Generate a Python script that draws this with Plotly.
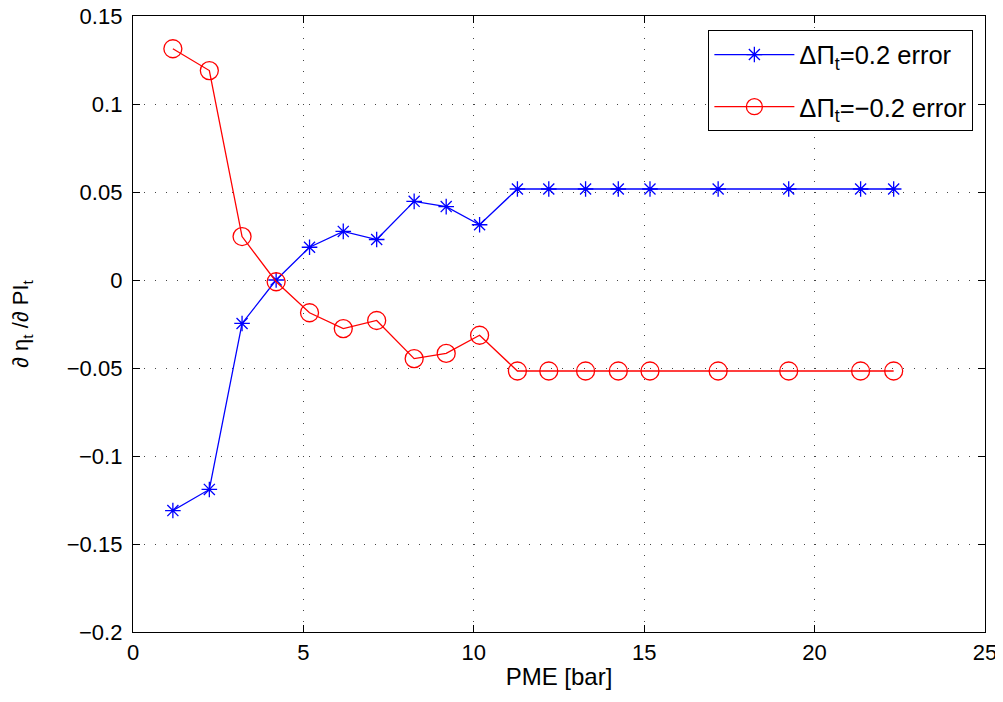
import plotly.graph_objects as go

pme = [1.17, 2.24, 3.2, 4.2, 5.18, 6.17, 7.15, 8.25, 9.19, 10.17, 11.28, 12.2, 13.28,
       14.24, 15.17, 17.17, 19.24, 21.35, 22.32]
pos_err = [-0.131, -0.119, -0.0247, 0.0, 0.0186, 0.0276, 0.0230, 0.0447, 0.0417, 0.0314,
           0.0517, 0.0517, 0.0517, 0.0517, 0.0517, 0.0517, 0.0517, 0.0517, 0.0517]
neg_err = [0.1314, 0.119, 0.0247, -0.001, -0.0186, -0.0276, -0.0230, -0.0447, -0.0417, -0.0314,
           -0.0517, -0.0517, -0.0517, -0.0517, -0.0517, -0.0517, -0.0517, -0.0517, -0.0517]

x_ticks = [0, 5, 10, 15, 20, 25]
y_ticks = [-0.2, -0.15, -0.1, -0.05, 0, 0.05, 0.1, 0.15]
y_labels = ["\u22120.2", "\u22120.15", "\u22120.1", "\u22120.05", "0", "0.05", "0.1", "0.15"]

FONT = "Liberation Sans, Arial, sans-serif"

fig = go.Figure()
fig.add_trace(go.Scatter(
    x=pme, y=pos_err, mode="lines+markers",
    name="\u0394\u03a0<sub>t</sub>=0.2 error", legendgroup="a",
    line=dict(color="#0000ff", width=1.3),
    marker=dict(symbol="asterisk-open", size=13, color="#0000ff",
                line=dict(color="#0000ff", width=1.3)),
))
fig.add_trace(go.Scatter(
    x=pme, y=neg_err, mode="lines+markers",
    name="\u0394\u03a0<sub>t</sub>=\u22120.2 error", legendgroup="b",
    line=dict(color="#ff0000", width=1.3),
    marker=dict(symbol="circle-open", size=18, color="#ff0000",
                line=dict(color="#ff0000", width=1.3)),
))

axis_common = dict(
    showline=True, linecolor="black", linewidth=1.3, mirror="ticks",
    ticks="inside", ticklen=7, tickcolor="black", tickwidth=1,
    showgrid=True, gridcolor="#444444", gridwidth=1, griddash="1px,10px",
    zeroline=False, automargin=False, ticklabeloverflow="allow",
    tickfont=dict(family=FONT, size=22, color="black"),
)

fig.update_xaxes(
    range=[0, 25], tickvals=x_ticks,
    title=dict(text="PME [bar]", font=dict(family=FONT, size=24, color="black"), standoff=4),
    **axis_common,
)
fig.update_yaxes(
    range=[-0.2, 0.15], tickvals=y_ticks, ticktext=y_labels, ticklabelstandoff=5,
    title=dict(text="\u2202 \u03b7<sub>t</sub> /\u2202 PI<sub>t</sub>",
               font=dict(family=FONT, size=22, color="black"), standoff=34),
    **axis_common,
)

# the page body has an 8px default margin, so the figure is sized to sit inside the window
fig.update_layout(
    width=995, height=694,
    margin=dict(l=125, r=18, t=8, b=70),
    paper_bgcolor="white", plot_bgcolor="white",
    font=dict(family=FONT, size=22, color="black"),
    legend=dict(
        x=0.986, y=0.977, xanchor="right", yanchor="top",
        bordercolor="black", borderwidth=1.3, bgcolor="white",
        font=dict(family=FONT, size=25.5, color="black"),
        itemwidth=80, tracegroupgap=16,
    ),
    showlegend=True,
)

fig.write_html("out.html")
